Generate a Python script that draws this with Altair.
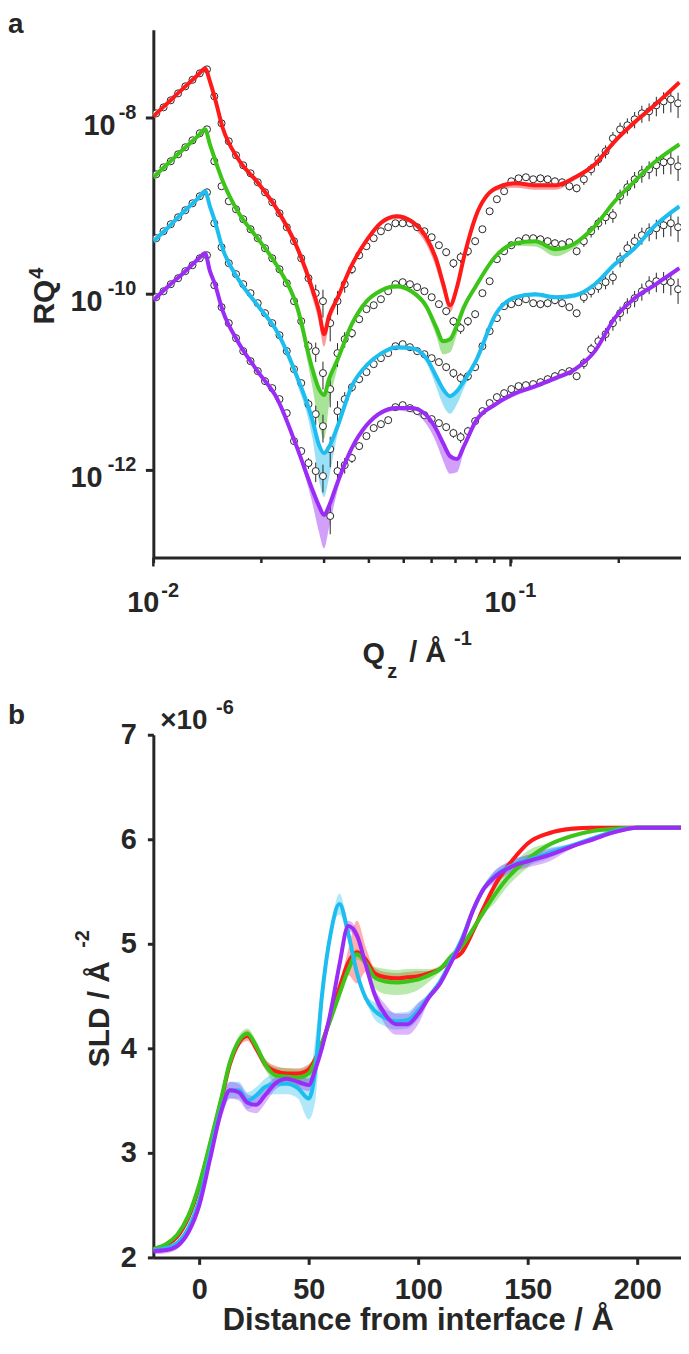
import altair as alt
import pandas as pd

INK = "#262626"
FONT = "Liberation Sans"

series = ["red", "green", "cyan", "purple"]
palette = ["#FF1A1A", "#3CC418", "#1EBDF0", "#9B2CF5"]

# ---------------- panel a : RQ^4 (log10 values) ----------------
q_fit = [0.01000, 0.01101, 0.01212, 0.01334, 0.01395, 0.01440, 0.01487, 0.01565, 0.01722, 0.01957,
         0.02224, 0.02528, 0.02783, 0.02910, 0.03005, 0.03102, 0.03265, 0.03594, 0.03956, 0.04355,
         0.04794, 0.05278, 0.05808, 0.06190, 0.06473, 0.06770, 0.07079, 0.07404, 0.07994, 0.09085,
         0.1032, 0.1173, 0.1334, 0.1516, 0.1722, 0.1957, 0.2224, 0.2528, 0.2967]
fit_red = [-7.983, -7.824, -7.665, -7.511, -7.438, -7.585, -7.778, -8.119, -8.460, -8.733,
           -9.047, -9.477, -9.938, -10.199, -10.460, -10.256, -10.063, -9.676, -9.392, -9.188,
           -9.119, -9.176, -9.358, -9.608, -9.881, -10.131, -9.926, -9.585, -9.119, -8.801,
           -8.744, -8.767, -8.767, -8.676, -8.528, -8.267, -8.051, -7.858, -7.597]
fit_green = [-8.676, -8.517, -8.358, -8.205, -8.131, -8.301, -8.472, -8.722, -9.063, -9.369,
             -9.688, -10.153, -10.847, -11.085, -11.153, -10.972, -10.767, -10.347, -10.085, -9.960,
             -9.915, -9.972, -10.142, -10.381, -10.540, -10.517, -10.358, -10.153, -9.915, -9.574,
             -9.426, -9.403, -9.494, -9.426, -9.233, -8.949, -8.722, -8.506, -8.301]
fit_cyan = [-9.403, -9.244, -9.074, -8.915, -8.835, -9.006, -9.176, -9.494, -9.824, -10.131,
            -10.438, -10.949, -11.426, -11.722, -11.813, -11.744, -11.528, -11.050, -10.813, -10.676,
            -10.608, -10.619, -10.733, -10.938, -11.085, -11.165, -11.108, -10.994, -10.767, -10.233,
            -10.040, -10.006, -10.040, -10.017, -9.892, -9.665, -9.483, -9.233, -9.006]
fit_purple = [-10.074, -9.915, -9.767, -9.608, -9.540, -9.744, -9.892, -10.199, -10.540, -10.881,
              -11.199, -11.756, -12.222, -12.415, -12.517, -12.415, -12.165, -11.756, -11.494, -11.347,
              -11.301, -11.301, -11.381, -11.540, -11.699, -11.847, -11.881, -11.733, -11.449, -11.256,
              -11.131, -11.051, -10.960, -10.858, -10.653, -10.278, -10.051, -9.903, -9.710]
# depth (decades) of the shaded confidence band below each fit
band_red = [0.03, 0.03, 0.03, 0.03, 0.03, 0.03, 0.03, 0.03, 0.03, 0.03, 0.03,
            0.06, 0.10, 0.13, 0.14, 0.10, 0.05, 0.03, 0.03, 0.03, 0.03,
            0.06, 0.08, 0.10, 0.10, 0.08, 0.06, 0.04, 0.03, 0.03,
            0.05, 0.05, 0.05, 0.03, 0.03, 0.03, 0.03, 0.03, 0.03]
band_green = [0.03, 0.03, 0.03, 0.03, 0.03, 0.03, 0.03, 0.03, 0.03, 0.03, 0.03,
              0.08, 0.20, 0.40, 0.50, 0.30, 0.10, 0.03, 0.03, 0.03, 0.03, 0.03,
              0.05, 0.10, 0.15, 0.15, 0.10, 0.05, 0.03, 0.03, 0.03,
              0.06, 0.08, 0.05, 0.03, 0.03, 0.03, 0.03, 0.03]
band_cyan = [0.03, 0.03, 0.03, 0.03, 0.03, 0.03, 0.03, 0.03, 0.03, 0.03, 0.03,
             0.08, 0.20, 0.40, 0.50, 0.35, 0.10, 0.03, 0.03, 0.03, 0.03, 0.03,
             0.05, 0.12, 0.18, 0.20, 0.15, 0.08, 0.03, 0.03, 0.03,
             0.03, 0.03, 0.03, 0.03, 0.03, 0.03, 0.03, 0.03]
band_purple = [0.03, 0.03, 0.03, 0.03, 0.03, 0.03, 0.03, 0.03, 0.03, 0.03, 0.03, 0.03,
               0.15, 0.30, 0.38, 0.25, 0.10, 0.03, 0.03, 0.03, 0.03,
               0.05, 0.10, 0.15, 0.20, 0.20, 0.15, 0.06, 0.03, 0.03,
               0.03, 0.03, 0.03, 0.03, 0.03, 0.03, 0.03, 0.03, 0.03]

q_data = [0.01019, 0.01068, 0.01119, 0.01173, 0.01229, 0.01287, 0.01349, 0.01413, 0.01481, 0.01552,
          0.01626, 0.01704, 0.01785, 0.01871, 0.01960, 0.02054, 0.02152, 0.02255, 0.02363, 0.02476,
          0.02594, 0.02718, 0.02848, 0.02984, 0.03127, 0.03277, 0.03433, 0.03597, 0.03769, 0.03950,
          0.04139, 0.04336, 0.04544, 0.04761, 0.04989, 0.05227, 0.05477, 0.05739, 0.06014, 0.06301,
          0.06603, 0.06918, 0.07249, 0.07596, 0.07959, 0.08340, 0.08739, 0.09157, 0.09594, 0.1005,
          0.1053, 0.1104, 0.1157, 0.1212, 0.1270, 0.1331, 0.1394, 0.1461, 0.1531, 0.1604,
          0.1681, 0.1761, 0.1845, 0.1934, 0.2026, 0.2123, 0.2225, 0.2331, 0.2443, 0.2559,
          0.2682, 0.2810, 0.2944]
dat_red = [-7.949, -7.881, -7.801, -7.722, -7.642, -7.568, -7.494, -7.449, -7.756, -8.063,
           -8.267, -8.426, -8.540, -8.631, -8.733, -8.847, -8.960, -9.085, -9.244, -9.403,
           -9.597, -9.824, -9.994, -10.085, -10.335, -10.085, -9.892, -9.722, -9.563, -9.460,
           -9.369, -9.290, -9.244, -9.199, -9.199, -9.199, -9.244, -9.290, -9.358, -9.449,
           -9.528, -9.653, -9.585, -9.517, -9.403, -9.267, -9.063, -8.926, -8.835, -8.722,
           -8.688, -8.676, -8.699, -8.688, -8.699, -8.722, -8.733, -8.778, -8.801, -8.699,
           -8.585, -8.472, -8.381, -8.233, -8.131, -8.085, -8.017, -7.949, -7.926, -7.858,
           -7.813, -7.790, -7.835]
dat_green = [-8.642, -8.563, -8.494, -8.415, -8.335, -8.256, -8.176, -8.131, -8.494, -8.778,
             -8.949, -9.040, -9.153, -9.267, -9.369, -9.483, -9.597, -9.722, -9.881, -10.085,
             -10.313, -10.597, -10.653, -10.903, -11.085, -10.676, -10.517, -10.449, -10.290, -10.176,
             -10.131, -10.063, -9.972, -9.892, -9.869, -9.892, -9.926, -9.972, -10.040, -10.119,
             -10.199, -10.313, -10.392, -10.313, -10.233, -9.994, -9.858, -9.608, -9.517, -9.449,
             -9.403, -9.369, -9.369, -9.381, -9.403, -9.426, -9.438, -9.415, -9.517, -9.403,
             -9.290, -9.199, -9.131, -9.108, -8.892, -8.790, -8.699, -8.631, -8.585, -8.540,
             -8.506, -8.494, -8.551]
dat_cyan = [-9.369, -9.290, -9.210, -9.131, -9.051, -8.972, -8.892, -8.847, -9.199, -9.472,
            -9.653, -9.778, -9.892, -9.994, -10.108, -10.222, -10.335, -10.472, -10.653, -10.858,
            -11.017, -11.256, -11.369, -11.506, -11.767, -11.335, -11.199, -11.063, -10.972, -10.892,
            -10.801, -10.733, -10.676, -10.597, -10.574, -10.608, -10.653, -10.688, -10.733, -10.778,
            -10.835, -10.903, -10.960, -10.938, -10.835, -10.597, -10.426, -10.278, -10.142, -10.119,
            -10.097, -10.063, -10.108, -10.119, -10.108, -10.074, -10.108, -10.153, -10.222, -10.040,
            -9.972, -9.915, -9.869, -9.813, -9.608, -9.483, -9.403, -9.335, -9.290, -9.256,
            -9.222, -9.199, -9.244]
dat_purple = [-10.040, -9.972, -9.892, -9.824, -9.744, -9.676, -9.597, -9.563, -9.903, -10.153,
              -10.335, -10.506, -10.653, -10.767, -10.881, -10.994, -11.074, -11.199, -11.358, -11.676,
              -11.790, -11.926, -12.017, -12.074, -12.528, -12.017, -11.949, -11.869, -11.733, -11.619,
              -11.528, -11.483, -11.438, -11.290, -11.267, -11.301, -11.335, -11.381, -11.426, -11.472,
              -11.517, -11.585, -11.631, -11.563, -11.449, -11.335, -11.244, -11.176, -11.131, -11.085,
              -11.051, -11.040, -11.028, -11.006, -10.972, -10.938, -10.903, -10.881, -10.938, -10.790,
              -10.631, -10.540, -10.460, -10.335, -10.222, -10.131, -10.051, -9.972, -9.892, -9.858,
              -9.858, -9.869, -9.949]
# relative uncertainty dR/R of each data point
rel_err = [0.01, 0.01, 0.01, 0.01, 0.01, 0.01, 0.01, 0.01,
           0.02, 0.02, 0.02, 0.02, 0.02, 0.02, 0.02,
           0.04, 0.04, 0.04, 0.04,
           0.08, 0.10, 0.14,
           0.25, 0.35, 0.38, 0.30, 0.20,
           0.12, 0.10, 0.08, 0.08,
           0.06, 0.06, 0.06, 0.06, 0.06, 0.06, 0.06, 0.06, 0.06,
           0.10, 0.12, 0.14, 0.12, 0.10,
           0.08, 0.08, 0.08, 0.08, 0.08, 0.08, 0.08, 0.08,
           0.10, 0.10, 0.10, 0.10, 0.10, 0.10,
           0.14, 0.15, 0.16, 0.17, 0.18, 0.19,
           0.20, 0.21, 0.22, 0.23,
           0.25, 0.27, 0.29, 0.32]

ytick_vals = [1e-12, 1e-10, 1e-8]
ytick_exp = ["-12", "-10", "-8"]
xtick_vals = [0.01, 0.1]
xtick_exp = ["-2", "-1"]
x_minor = [0.01, 0.02, 0.03, 0.04, 0.05, 0.06, 0.07, 0.08, 0.09, 0.1, 0.2]

# ---------------- panel b : SLD profiles (x 1e-6 A^-2) ----------------
z_sld = [-21, -15, -10, -5, 0, 5, 10, 14, 18, 22, 26, 30, 35, 40, 45, 50, 53, 56, 60, 64,
         68, 72, 76, 80, 85, 90, 95, 100, 105, 110, 115, 120, 125, 130, 135, 140, 145, 150,
         160, 170, 180, 190, 200, 210, 220]
sld_red = [2.08, 2.12, 2.20, 2.38, 2.68, 3.08, 3.50, 3.85, 4.05, 4.12, 4.00, 3.85, 3.78, 3.76, 3.76,
           3.80, 3.90, 4.05, 4.30, 4.58, 4.82, 4.92, 4.85, 4.72, 4.68, 4.67, 4.68, 4.69, 4.72, 4.76,
           4.85, 4.92, 5.12, 5.35, 5.56, 5.72, 5.85, 5.96, 6.06, 6.10, 6.11, 6.11, 6.11, 6.11, 6.11]
sld_green = [2.08, 2.13, 2.22, 2.40, 2.70, 3.10, 3.52, 3.87, 4.07, 4.14, 4.02, 3.85, 3.74, 3.73, 3.72,
             3.76, 3.88, 4.05, 4.28, 4.52, 4.75, 4.90, 4.82, 4.68, 4.64, 4.63, 4.64, 4.66, 4.70, 4.76,
             4.88, 4.98, 5.14, 5.31, 5.47, 5.61, 5.72, 5.81, 5.95, 6.03, 6.08, 6.10, 6.11, 6.11, 6.11]
sld_cyan = [2.07, 2.09, 2.14, 2.28, 2.55, 3.00, 3.42, 3.60, 3.60, 3.50, 3.55, 3.63, 3.66, 3.66, 3.62,
            3.52, 3.80, 4.50, 5.10, 5.38, 5.10, 4.72, 4.48, 4.36, 4.29, 4.26, 4.27, 4.36, 4.50, 4.64,
            4.84, 5.05, 5.32, 5.53, 5.65, 5.72, 5.77, 5.80, 5.87, 5.94, 6.01, 6.08, 6.11, 6.11, 6.11]
sld_purple = [2.06, 2.07, 2.11, 2.24, 2.50, 2.95, 3.40, 3.60, 3.58, 3.48, 3.46, 3.55, 3.67, 3.71, 3.68,
              3.65, 3.80, 4.00, 4.35, 4.80, 5.17, 5.08, 4.80, 4.52, 4.32, 4.23, 4.23, 4.33, 4.49, 4.62,
              4.82, 5.03, 5.32, 5.53, 5.64, 5.71, 5.76, 5.79, 5.85, 5.93, 6.00, 6.07, 6.11, 6.11, 6.11]
# half width of the shaded SLD confidence bands
sldw_red = [0.02, 0.02, 0.02, 0.02, 0.02, 0.02, 0.02, 0.02,
            0.04, 0.05, 0.05, 0.05, 0.05, 0.05, 0.05, 0.05,
            0.03, 0.03, 0.03, 0.03, 0.12, 0.30, 0.12,
            0.05, 0.05, 0.05, 0.05, 0.05,
            0.02, 0.02, 0.02, 0.02, 0.02, 0.02, 0.02, 0.02, 0.02, 0.02, 0.02, 0.02, 0.02, 0.02, 0.02, 0.02, 0.02]
sldw_green = [0.02, 0.02, 0.02, 0.02, 0.02, 0.02, 0.02, 0.02,
              0.05, 0.05, 0.05, 0.05, 0.08, 0.08, 0.08, 0.08,
              0.03, 0.03, 0.03, 0.03, 0.05, 0.05, 0.05,
              0.10, 0.12, 0.12, 0.12, 0.10, 0.06,
              0.03, 0.03, 0.03, 0.03, 0.03, 0.08, 0.08, 0.08, 0.08,
              0.02, 0.02, 0.02, 0.02, 0.02, 0.02, 0.02]
sldw_cyan = [0.02, 0.02, 0.02, 0.02, 0.02, 0.02,
             0.08, 0.08, 0.08, 0.08, 0.08, 0.08, 0.10, 0.10, 0.10,
             0.20, 0.30, 0.15, 0.05, 0.10, 0.06, 0.03, 0.03,
             0.08, 0.08, 0.08, 0.08, 0.08,
             0.03, 0.03, 0.03, 0.03, 0.03, 0.03, 0.05, 0.05, 0.05, 0.05, 0.05,
             0.02, 0.02, 0.02, 0.02, 0.02, 0.02]
sldw_purple = [0.03, 0.03, 0.03, 0.03, 0.03, 0.03,
               0.08, 0.08, 0.08, 0.08, 0.08, 0.08, 0.06, 0.06, 0.06, 0.06,
               0.03, 0.03, 0.03, 0.03, 0.05, 0.05, 0.05,
               0.06, 0.10, 0.10, 0.10, 0.10,
               0.03, 0.03, 0.03, 0.03, 0.03, 0.03, 0.06, 0.06, 0.06, 0.06, 0.06,
               0.02, 0.02, 0.02, 0.02, 0.02, 0.02]
sld_ticks = [2, 3, 4, 5, 6, 7]
z_ticks = [0, 50, 100, 150, 200]

# ---------------- tables ----------------
fits = dict(zip(series, [fit_red, fit_green, fit_cyan, fit_purple]))
bands = dict(zip(series, [band_red, band_green, band_cyan, band_purple]))
dats = dict(zip(series, [dat_red, dat_green, dat_cyan, dat_purple]))
slds = dict(zip(series, [sld_red, sld_green, sld_cyan, sld_purple]))
sldws = dict(zip(series, [sldw_red, sldw_green, sldw_cyan, sldw_purple]))

rows = []
for s in series:
    for q, L, b in zip(q_fit, fits[s], bands[s]):
        rows.append({"s": s, "q": q, "r": 10 ** L, "lo": 10 ** (L - b), "hi": 10 ** (L + 0.02)})
fit_df = pd.DataFrame(rows)

rows = []
for s in series:
    for q, L, e in zip(q_data, dats[s], rel_err):
        r = 10 ** L
        rows.append({"s": s, "q": q, "r": r, "elo": r * (1 - e), "ehi": r * (1 + e)})
dat_df = pd.DataFrame(rows)

rows = []
for s in series:
    for z, v, w in zip(z_sld, slds[s], sldws[s]):
        rows.append({"s": s, "z": z, "v": v, "lo": v - w, "hi": v + w})
sld_df = pd.DataFrame(rows)

one = pd.DataFrame({"k": [0]})

W, HA, HB = 530, 530, 525


def txt(s, x, y, size, align="left", angle=0):
    return alt.Chart(one).mark_text(
        text=s, align=align, baseline="alphabetic", fontSize=size, font=FONT,
        fontWeight="bold", color=INK, angle=angle
    ).encode(x=alt.value(x), y=alt.value(y))


cs = alt.Scale(domain=series, range=palette)

# ---------------- panel a ----------------
xs_a = alt.Scale(type="log", domain=[0.01, 0.3], nice=False)
ys_a = alt.Scale(type="log", domain=[1e-13, 1e-7], nice=False)
ax_xa = alt.Axis(values=x_minor, labels=False, title=None, grid=False, tickSize=5, tickWidth=2.5,
                 tickColor=INK, domainColor=INK, domainWidth=3)
ax_ya = alt.Axis(values=ytick_vals, labels=False, title=None, grid=False, tickSize=8, tickWidth=3,
                 tickColor=INK, domainColor=INK, domainWidth=3)
XA = alt.X("q:Q", scale=xs_a, axis=ax_xa)
col = alt.Color("s:N", scale=cs, legend=None)

band_a = alt.Chart(fit_df).mark_area(opacity=0.45, interpolate="monotone", clip=True).encode(
    x=XA, y=alt.Y("lo:Q", scale=ys_a, axis=ax_ya), y2="hi:Q", color=col)
err_a = alt.Chart(dat_df).mark_rule(color=INK, strokeWidth=1, clip=True).encode(
    x=XA, y=alt.Y("elo:Q", scale=ys_a, axis=ax_ya), y2="ehi:Q")
pts_a = alt.Chart(dat_df).mark_circle(size=50, fill="white", stroke=INK, strokeWidth=1, opacity=1,
                                      clip=True).encode(
    x=XA, y=alt.Y("r:Q", scale=ys_a, axis=ax_ya))
line_a = alt.Chart(fit_df).mark_line(strokeWidth=4, interpolate="monotone", strokeJoin="round",
                                     clip=True).encode(
    x=XA, y=alt.Y("r:Q", scale=ys_a, axis=ax_ya), color=col)

ytick_df = pd.DataFrame({"v": ytick_vals, "exp": ytick_exp})
xtick_df = pd.DataFrame({"q": xtick_vals, "exp": xtick_exp})
YT = alt.Y("v:Q", scale=ys_a, axis=ax_ya)
major_x = alt.Chart(xtick_df).mark_rule(color=INK, strokeWidth=2.5).encode(
    x=XA, y=alt.value(HA), y2=alt.value(HA + 9))
ylab_exp = alt.Chart(ytick_df).mark_text(align="right", baseline="alphabetic", fontSize=20, font=FONT,
                                         fontWeight="bold", color=INK, dy=1).encode(
    x=alt.value(-17), y=YT, text="exp:N")
ylab_10s = alt.Chart(ytick_df).transform_filter("length(datum.exp) == 2").mark_text(
    text="10", align="right", baseline="alphabetic", fontSize=29, font=FONT, fontWeight="bold",
    color=INK, dy=17).encode(x=alt.value(-38), y=YT)
ylab_10l = alt.Chart(ytick_df).transform_filter("length(datum.exp) == 3").mark_text(
    text="10", align="right", baseline="alphabetic", fontSize=29, font=FONT, fontWeight="bold",
    color=INK, dy=17).encode(x=alt.value(-51), y=YT)
xlab_10 = alt.Chart(xtick_df).mark_text(text="10", align="right", baseline="alphabetic", fontSize=29,
                                        font=FONT, fontWeight="bold", color=INK, dx=6).encode(
    x=XA, y=alt.value(HA + 55))
xlab_exp = alt.Chart(xtick_df).mark_text(align="left", baseline="alphabetic", fontSize=20, font=FONT,
                                         fontWeight="bold", color=INK, dx=8).encode(
    x=XA, y=alt.value(HA + 40), text="exp:N")

panel_a = alt.layer(
    band_a, err_a, pts_a, line_a, major_x, ylab_exp, ylab_10s, ylab_10l, xlab_10, xlab_exp,
    txt("Q", 210, HA + 106, 29), txt("z", 235, HA + 121, 20), txt("/ Å", 257, HA + 105, 29),
    txt("-1", 302, HA + 88, 20),
    txt("RQ", -100, 296, 30, angle=270), txt("4", -111, 250, 20, angle=270),
    txt("a", -146, 3, 28),
).properties(width=W, height=HA)

# ---------------- panel b ----------------
xs_b = alt.Scale(domain=[-21, 220], nice=False, zero=False)
ys_b = alt.Scale(domain=[2, 7], nice=False, zero=False)
ax_xb = alt.Axis(values=z_ticks, title=None, grid=False, labelFontSize=29,
                 labelPadding=11, tickSize=7, tickWidth=3, tickColor=INK, domainColor=INK, domainWidth=3,
                 labelFlush=False)
ax_yb = alt.Axis(values=sld_ticks, title=None, grid=False, labelFontSize=29, labelPadding=11, tickSize=6,
                 tickWidth=3, tickColor=INK, domainColor=INK, domainWidth=3, format="d")
XB = alt.X("z:Q", scale=xs_b, axis=ax_xb)

band_b = alt.Chart(sld_df).mark_area(opacity=0.35, interpolate="monotone", clip=True).encode(
    x=XB, y=alt.Y("lo:Q", scale=ys_b, axis=ax_yb), y2="hi:Q", color=col)
line_b = alt.Chart(sld_df).mark_line(strokeWidth=4, interpolate="monotone", strokeJoin="round",
                                     clip=True).encode(
    x=XB, y=alt.Y("v:Q", scale=ys_b, axis=ax_yb), color=col)

panel_b = alt.layer(
    band_b, line_b,
    txt("b", -146, -11, 28), txt("×10", 7, -6, 28), txt("-6", 63, -21, 20),
    txt("SLD / Å", -45, 334, 30, angle=270), txt("-2", -65, 214, 20, angle=270),
    txt("Distance from interface / Å", W / 2 + 1, HB + 73, 31, align="center"),
).properties(width=W, height=HB)

chart = alt.vconcat(panel_a, panel_b, spacing=16).properties(
    padding=0, background="white"
).configure_view(stroke=None).configure_axis(
    labelFont=FONT, titleFont=FONT, labelColor=INK, titleColor=INK,
    labelFontWeight="bold", titleFontWeight="bold"
)

chart.save("out.html", embed_options={"renderer": "svg", "actions": False})
